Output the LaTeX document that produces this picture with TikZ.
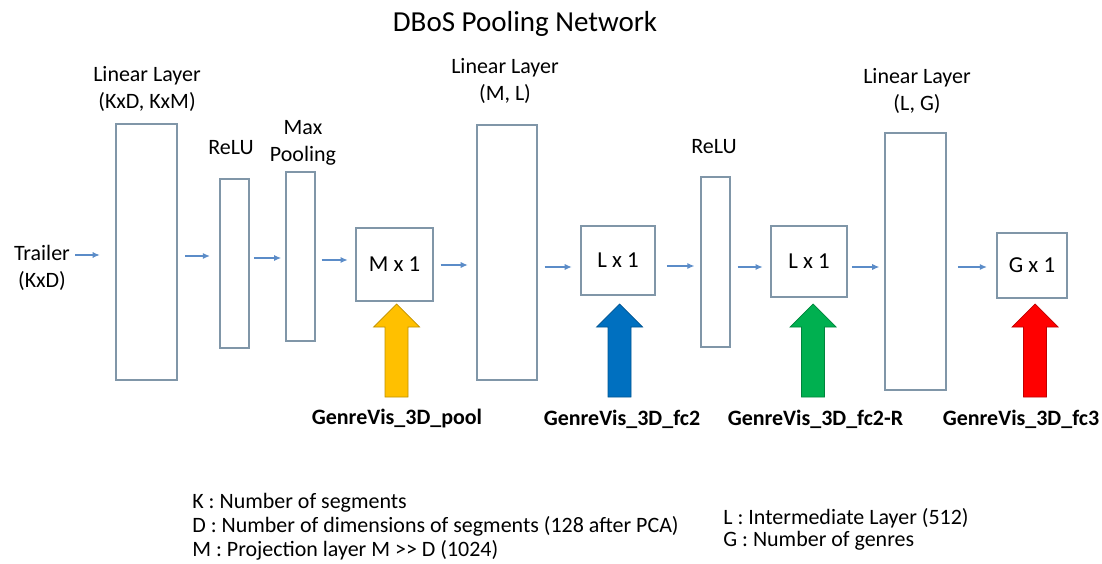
\documentclass[tikz,border=0pt]{standalone}
\usepackage{fontspec}
\setmainfont{Carlito}
\usetikzlibrary{arrows.meta}

\definecolor{boxgray}{RGB}{128,150,168}
\definecolor{flowblue}{RGB}{91,140,200}
\definecolor{poolyellow}{RGB}{255,192,0}
\definecolor{fcblue}{RGB}{0,112,192}
\definecolor{fcgreen}{RGB}{0,176,80}
\definecolor{fcred}{RGB}{255,0,0}

\tikzset{
  layer/.style={draw=boxgray, line width=0.6pt, inner sep=0pt, font=\fontsize{13}{15}\selectfont},
  flow/.style={-{Latex[length=4pt,width=3.5pt]}, draw=flowblue, line width=0.6pt},
  tap/.style={draw=#1!75!black, fill=#1, line width=0.4pt},
  lbl/.style={font=\fontsize{12.5}{15}\selectfont, align=center, inner sep=0pt},
  tapname/.style={font=\bfseries\fontsize{12.5}{15}\selectfont, inner sep=0pt},
  legend/.style={font=\fontsize{12.5}{15}\selectfont, anchor=west, inner sep=0pt},
}

% block arrow pointing up: centre x, colour
\newcommand{\taparrow}[2]{%
  \draw[tap=#2] (#1-23,327) -- (#1,304) -- (#1+23,327) -- (#1+11.5,327)
    -- (#1+11.5,397) -- (#1-11.5,397) -- (#1-11.5,327) -- cycle;}

\begin{document}
\begin{tikzpicture}[x=0.02cm,y=-0.02cm]
\useasboundingbox (0,0) rectangle (1102,564);

\node[font=\fontsize{16.5}{19}\selectfont] (title) at (525,24) {DBoS Pooling Network};

% input
\node[lbl] (trailer) at (42,268) {Trailer\\(KxD)};

% layers
\node[layer, minimum width=1.22cm, minimum height=5.12cm] (lin1) at (146.5,252) {};
\node[layer, minimum width=0.58cm, minimum height=3.38cm] (relu1) at (234.5,263.5) {};
\node[layer, minimum width=0.58cm, minimum height=3.38cm] (pool) at (300.5,256.5) {};
\node[layer, minimum width=1.54cm, minimum height=1.46cm] (mvec) at (394.5,264.5) {M x 1};
\node[layer, minimum width=1.20cm, minimum height=5.10cm] (lin2) at (507,252.5) {};
\node[layer, minimum width=1.48cm, minimum height=1.38cm] (lvec) at (618,260.5) {L x 1};
\node[layer, minimum width=0.58cm, minimum height=3.40cm] (relu2) at (715.5,262) {};
\node[layer, minimum width=1.52cm, minimum height=1.42cm] (lrvec) at (809,261.5) {L x 1};
\node[layer, minimum width=1.22cm, minimum height=5.14cm] (lin3) at (915.5,261.5) {};
\node[layer, minimum width=1.40cm, minimum height=1.30cm] (gvec) at (1032,265.5) {G x 1};

% layer labels
\node[lbl] at (147,89) {Linear Layer\\(KxD, KxM)};
\node[lbl] at (231,148) {ReLU};
\node[lbl] at (303,143) {Max\\Pooling};
\node[lbl] at (505,81) {Linear Layer\\(M, L)};
\node[lbl] at (714,147) {ReLU};
\node[lbl] at (917,91) {Linear Layer\\(L, G)};

% data flow
\draw[flow, shorten <=3pt, shorten >=9pt] (trailer.east |- 0,255) -- (lin1.west |- 0,255);
\draw[flow, shorten <=4.5pt, shorten >=5.5pt] (lin1.east |- 0,256) -- (relu1.west |- 0,256);
\draw[flow, shorten <=2.5pt, shorten >=2.5pt] (relu1.east |- 0,258) -- (pool.west |- 0,258);
\draw[flow, shorten <=3.5pt, shorten >=4.5pt] (pool.east |- 0,260) -- (mvec.west |- 0,260);
\draw[flow, shorten <=4pt, shorten >=5pt] (mvec.east |- 0,265) -- (lin2.west |- 0,265);
\draw[flow, shorten <=4pt, shorten >=5pt] (lin2.east |- 0,267) -- (lvec.west |- 0,267);
\draw[flow, shorten <=6.5pt, shorten >=3.5pt] (lvec.east |- 0,266) -- (relu2.west |- 0,266);
\draw[flow, shorten <=4pt, shorten >=4.5pt] (relu2.east |- 0,267) -- (lrvec.west |- 0,267);
\draw[flow, shorten <=2.5pt, shorten >=3pt] (lrvec.east |- 0,267) -- (lin3.west |- 0,267);
\draw[flow, shorten <=6.5pt, shorten >=5.5pt] (lin3.east |- 0,267) -- (gvec.west |- 0,267);

% feature taps
\taparrow{396.5}{poolyellow}
\taparrow{619.5}{fcblue}
\taparrow{813}{fcgreen}
\taparrow{1035}{fcred}

\node[tapname] (tpool) at (397,419) {GenreVis\_3D\_pool};
\node[tapname] (tfc2) at (622,419) {GenreVis\_3D\_fc2};
\node[tapname] (tfc2r) at (815.5,419) {GenreVis\_3D\_fc2-R};
\node[tapname] (tfc3) at (1021,419) {GenreVis\_3D\_fc3};

% legend
\node[legend] (kdef) at (192,503) {K : Number of segments};
\node[legend] (ddef) at (192,526) {D : Number of dimensions of segments (128 after PCA)};
\node[legend] (mdef) at (192,550) {M : Projection layer M >{}> D (1024)};
\node[legend] (ldef) at (723,518) {L : Intermediate Layer (512)};
\node[legend] (gdef) at (723,541) {G : Number of genres};

\end{tikzpicture}
\end{document}
